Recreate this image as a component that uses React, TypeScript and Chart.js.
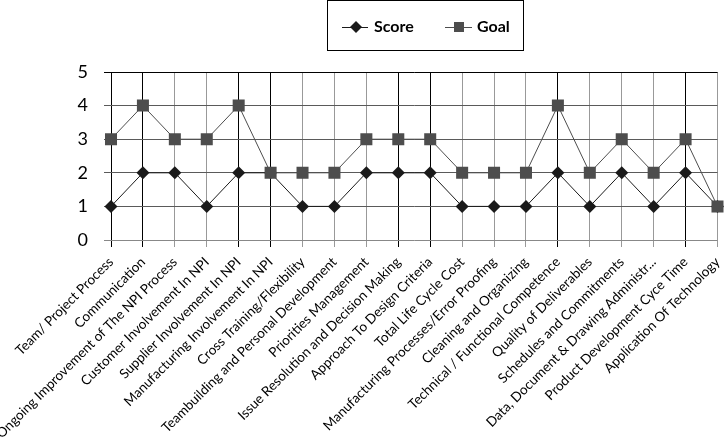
import React, { useEffect, useRef } from "react";
import { Chart, registerables } from "chart.js";

Chart.register(...registerables);

const categories = [
  "Team/ Project Process",
  "Communication",
  "Ongoing Improvement of The NPI Process",
  "Customer Involvement In NPI",
  "Supplier Involvement In NPI",
  "Manufacturing Involvement In NPI",
  "Cross Training/Flexibility",
  "Teambuilding and Personal Development",
  "Priorities Management",
  "Issue Resolution and Decision Making",
  "Approach To Design Criteria",
  "Total Life Cycle Cost",
  "Manufacturing Processes/Error Proofing",
  "Cleaning and Organizing",
  "Technical / Functional Competence",
  "Quality of Deliverables",
  "Schedules and Commitments",
  "Data, Document & Drawing Administr...",
  "Product Development Cyce Time",
  "Application Of Technology",
];

const scoreValues = [1, 2, 2, 1, 2, 2, 1, 1, 2, 2, 2, 1, 1, 1, 2, 1, 2, 1, 2, 1];
const goalValues = [3, 4, 3, 3, 4, 2, 2, 2, 3, 3, 3, 2, 2, 2, 4, 2, 3, 2, 3, 1];
const seriesNames = ["Score", "Goal"];
const yMin = 0;
const yMax = 5;
const yStep = 1;

const FONT = "Lato, 'Open Sans', sans-serif";
const SCORE_COLOR = "#1a1a1a";
const GOAL_COLOR = "#4d4d4d";
const darkVertical = [0, 1, 4, 5, 9, 10, 14, 18];

const legendPlugin = {
  id: "boxLegend",
  afterDraw(chart: any) {
    const ctx = chart.ctx as CanvasRenderingContext2D;
    ctx.save();
    ctx.strokeStyle = "#000";
    ctx.lineWidth = 1;
    ctx.strokeRect(327.5, 0.5, 196, 50);
    const y = 27;
    ctx.strokeStyle = SCORE_COLOR;
    ctx.beginPath();
    ctx.moveTo(342, y + 0.5);
    ctx.lineTo(368, y + 0.5);
    ctx.stroke();
    ctx.fillStyle = SCORE_COLOR;
    ctx.beginPath();
    ctx.moveTo(350, y);
    ctx.lineTo(356, y - 6);
    ctx.lineTo(362, y);
    ctx.lineTo(356, y + 6);
    ctx.closePath();
    ctx.fill();
    ctx.strokeStyle = GOAL_COLOR;
    ctx.beginPath();
    ctx.moveTo(445, y + 0.5);
    ctx.lineTo(472, y + 0.5);
    ctx.stroke();
    ctx.fillStyle = GOAL_COLOR;
    ctx.fillRect(454, y - 5, 10, 10);
    ctx.fillStyle = "#000";
    ctx.font = `bold 16px ${FONT}`;
    ctx.textBaseline = "middle";
    ctx.textAlign = "left";
    ctx.fillText(seriesNames[0], 374, y);
    ctx.fillText(seriesNames[1], 477, y);
    ctx.restore();
  },
};

export default function App() {
  const ref = useRef<HTMLCanvasElement | null>(null);

  useEffect(() => {
    document.body.style.margin = "0";
    const canvas = ref.current;
    if (!canvas) return;
    const chart = new Chart(canvas, {
      type: "line",
      data: {
        labels: categories,
        datasets: [
          {
            label: seriesNames[0],
            data: scoreValues,
            borderColor: SCORE_COLOR,
            backgroundColor: SCORE_COLOR,
            borderWidth: 1,
            pointStyle: "rectRot",
            pointRadius: 6.5,
            pointBorderWidth: 0,
            pointBackgroundColor: SCORE_COLOR,
            tension: 0,
            order: 2,
          },
          {
            label: seriesNames[1],
            data: goalValues,
            borderColor: GOAL_COLOR,
            backgroundColor: GOAL_COLOR,
            borderWidth: 1,
            pointStyle: "rect",
            pointRadius: 8.5,
            pointBorderWidth: 0,
            pointBackgroundColor: GOAL_COLOR,
            tension: 0,
            order: 1,
          },
        ],
      },
      options: {
        responsive: false,
        animation: false,
        layout: { padding: { top: 72, right: 8, left: 0, bottom: 0 } },
        plugins: {
          legend: { display: false },
          tooltip: { enabled: false },
          title: { display: false },
        },
        scales: {
          x: {
            type: "category",
            offset: false,
            border: { display: false },
            grid: {
              color: (c: any) => (darkVertical.includes(c.index) ? "#000" : "#999"),
              lineWidth: 1,
              tickLength: 7,
              drawTicks: true,
            },
            ticks: {
              autoSkip: false,
              minRotation: 45,
              maxRotation: 45,
              padding: 7,
              color: "#000",
              font: { family: FONT, size: 13.5 },
            },
            afterFit: (scale: any) => {
              scale.height = 198;
              scale.paddingLeft = 0;
              scale.paddingRight = 0;
            },
          },
          y: {
            min: yMin,
            max: yMax,
            border: { display: false },
            grid: {
              color: (c: any) => (c.tick && c.tick.value === yMax ? "#000" : c.tick && c.tick.value === yMin ? "#888" : "#5a5a5a"),
              lineWidth: 1,
              tickLength: 7,
            },
            ticks: {
              stepSize: yStep,
              padding: 16,
              color: "#000",
              font: { family: FONT, size: 18 },
            },
            afterFit: (scale: any) => {
              scale.width = 111;
              scale.paddingTop = 0;
              scale.paddingBottom = 0;
            },
          },
        },
      },
      plugins: [legendPlugin],
    } as any);
    return () => chart.destroy();
  }, []);

  return (
    <div style={{ position: "absolute", left: 0, top: 0, width: 726, height: 438 }}>
      <canvas ref={ref} width={726} height={438} style={{ display: "block" }} />
    </div>
  );
}
